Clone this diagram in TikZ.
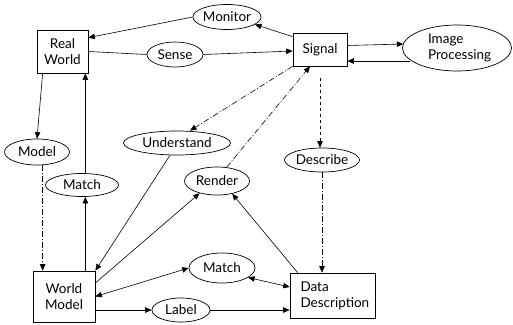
\documentclass[tikz,border=0pt]{standalone}
\usepackage{fontspec}
\setmainfont{Lato}
\usetikzlibrary{shapes.geometric,arrows.meta}
\begin{document}
\begin{tikzpicture}[x=1pt,y=-1pt,
  every node/.style={font=\fontsize{13.5}{16}\selectfont, inner sep=0pt},
  box/.style={draw, line width=0.7pt, rectangle, align=center},
  oval/.style={draw, line width=0.7pt, ellipse, align=center},
  conn/.style={line width=0.6pt},
  arr/.style={conn, -{Triangle[length=6.5pt,width=5.5pt]}},
  arrtwo/.style={conn, {Triangle[length=6.5pt,width=5.5pt]}-{Triangle[length=6.5pt,width=5.5pt]}},
  dd/.style={dash pattern=on 6pt off 2pt on 1pt off 2pt}
]
\useasboundingbox (0,0) rectangle (513,324);
% nodes
\node[box, minimum width=51pt, minimum height=43pt] (rw) at (62.5,51.5) {Real\\World};
\node[oval, minimum width=64pt, minimum height=25pt] (mon) at (227,17) {Monitor};
\node[oval, minimum width=56pt, minimum height=25pt] (sense) at (175,54.5) {Sense};
\node[box, minimum width=54pt, minimum height=33pt] (sig) at (320,49.5) {Signal};
\node[oval, minimum width=109pt, minimum height=46pt, align=left, text width=70pt] (ip) at (457,48) {\hspace*{6pt}Image\\\hspace*{6pt}Processing};
\node[oval, minimum width=107pt, minimum height=24pt] (und) at (177,143) {Understand};
\node[oval, minimum width=75pt, minimum height=24pt] (desc) at (322,160) {Describe};
\node[oval, minimum width=65pt, minimum height=26pt] (model) at (37,152) {Model};
\node[oval, minimum width=73pt, minimum height=23pt] (mtone) at (82,185) {Match};
\node[oval, minimum width=65pt, minimum height=28pt] (render) at (217,181) {Render};
\node[box, minimum width=62pt, minimum height=51pt] (wm) at (64,296.5) {World\\Model};
\node[oval, minimum width=66pt, minimum height=30pt] (mttwo) at (222,268) {Match};
\node[oval, minimum width=58pt, minimum height=24pt] (label) at (181,310) {Label};
\node[box, minimum width=85pt, minimum height=45pt, align=left, text width=64pt] (ddesc) at (332.5,295.5) {Data\\Description};
% helper coordinates
\coordinate (cx) at ([xshift=-3pt]rw.south east);
\coordinate (mx) at ([xshift=10pt]wm.north west);
\coordinate (ipw) at (402.5,48);
% connectors
\draw[arr] ([yshift=-4pt]sig.north west) -- (mon.-15);
\draw[arr] (mon.west) -- ([yshift=-8pt]rw.north east);
\draw[conn] (rw.east) -- (sense.west);
\draw[arr] (sense.east) -- ([yshift=-1.5pt]sig.west);
\draw[arr] ([yshift=4pt]sig.east) -- ([xshift=0.8pt,yshift=4pt]ipw);
\draw[arr] ([xshift=7pt,yshift=-13pt]ipw) -- ([yshift=-11.5pt]sig.east);
\draw[arr,dd] (sig.south west) -- ([xshift=13pt]und.north);
\draw[arr,dashed] ([yshift=-12pt]sig.south) -- (sig.south |- desc.north);
\draw[arr,dd] (desc.south) -- (desc.south |- ddesc.north);
\draw[arr] ([xshift=6pt]rw.south west) -- (model.north);
\draw[arr,dd] (mx |- model.south) -- (mx);
\draw[arr] (cx |- mtone.north) -- (cx);
\draw[arr] (cx |- wm.north) -- (cx |- mtone.south);
\draw[arr] (und.-120) -- (wm.north east);
\draw[arr] ([yshift=13.5pt]wm.east) -- (render.215);
\draw[arr] ([xshift=8pt]ddesc.north west) -- (render.-40);
\draw[arr,dd] (render.55) -- ([xshift=-10pt]sig.south);
\draw[arrtwo] (wm.east) -- (mttwo.west);
\draw[arrtwo] (mttwo.-20) -- ([yshift=8.5pt]ddesc.west);
\draw[arr] ([yshift=-13.5pt]wm.east) -- (label.west);
\draw[arr] (label.east) -- (label.east -| ddesc.west);
\end{tikzpicture}
\end{document}
